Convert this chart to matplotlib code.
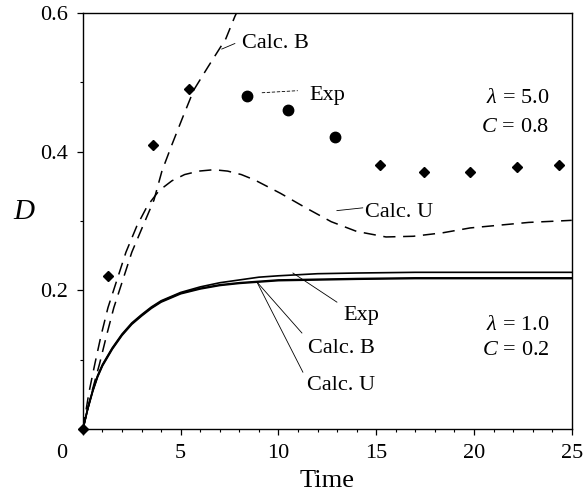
import numpy as np
import matplotlib
matplotlib.use("Agg")
import matplotlib.pyplot as plt
from matplotlib.ticker import MultipleLocator

plt.rcParams["font.family"] = ["Liberation Serif", "DejaVu Serif"]
plt.rcParams["mathtext.fontset"] = "custom"
plt.rcParams["mathtext.rm"] = "Liberation Serif"
plt.rcParams["mathtext.it"] = "Liberation Serif:italic"

# Measured points (lambda = 5.0, C = 0.8)
exp_diamond_t = [0, 1.26, 3.58, 5.42, 15.18, 17.43, 19.79, 22.19, 24.34]
exp_diamond_d = [0, 0.221, 0.41, 0.49, 0.381, 0.371, 0.371, 0.378, 0.381]
exp_circle_t = [8.38, 10.48, 12.88]
exp_circle_d = [0.48, 0.46, 0.421]

# Calculated curves (lambda = 5.0, C = 0.8)
calc_b_hi_t = [0, 0.45, 0.85, 1.2, 1.58, 2.04, 2.5, 3.07, 3.63, 4.04, 4.55,
               5.11, 5.67, 6.39, 7.31, 7.77, 8.2]
calc_b_hi_d = [0, 0.053, 0.094, 0.134, 0.175, 0.215, 0.255, 0.293, 0.33,
               0.372, 0.41, 0.45, 0.489, 0.522, 0.563, 0.595, 0.62]
calc_u_hi_t = [0, 0.31, 0.61, 0.92, 1.28, 1.74, 2.2, 2.76, 3.3, 3.9, 4.55,
               5.2, 5.93, 6.7, 7.4, 8.1, 8.8, 10.1, 11.4, 12.7, 14, 15.5,
               16.9, 18.4, 19.8, 21.3, 22.8, 24.3, 25]
calc_u_hi_d = [0, 0.053, 0.094, 0.134, 0.175, 0.215, 0.255, 0.293, 0.322,
               0.344, 0.358, 0.367, 0.372, 0.374, 0.372, 0.367, 0.359, 0.34,
               0.319, 0.299, 0.285, 0.277, 0.278, 0.283, 0.29, 0.294, 0.298,
               0.3, 0.301]

# Curves for lambda = 1.0, C = 0.2
low_t = [0, 0.25, 0.5, 0.75, 1, 1.5, 2, 2.5, 3, 3.5, 4, 5, 6, 7, 8, 9, 10,
         12, 14, 17, 20, 25]
exp_low_d = [0, 0.03, 0.056, 0.077, 0.093, 0.117, 0.137, 0.153, 0.165, 0.176,
             0.185, 0.197, 0.205, 0.211, 0.215, 0.219, 0.221, 0.224, 0.225,
             0.226, 0.226, 0.226]
calc_b_low_d = [0, 0.03, 0.055, 0.076, 0.092, 0.116, 0.136, 0.152, 0.164,
                0.175, 0.184, 0.196, 0.203, 0.208, 0.211, 0.213, 0.215, 0.216,
                0.217, 0.218, 0.218, 0.218]
calc_u_low_d = [0, 0.029, 0.054, 0.075, 0.091, 0.115, 0.135, 0.151, 0.163,
                0.174, 0.183, 0.195, 0.202, 0.207, 0.21, 0.212, 0.214, 0.215,
                0.216, 0.217, 0.217, 0.217]

x_ticks = [0, 5, 10, 15, 20, 25]
y_ticks = [0.2, 0.4, 0.6]

fig = plt.figure(figsize=(5.84, 4.95), dpi=100)
ax = fig.add_axes([0.142, 0.1333, 0.837, 0.8404])

dash = (0, (8, 5))
ax.plot(calc_b_hi_t, calc_b_hi_d, color="black", lw=1.1, linestyle=dash)
ax.plot(calc_u_hi_t, calc_u_hi_d, color="black", lw=1.1, linestyle=dash)

ax.plot(low_t, exp_low_d, color="black", lw=1.2)
ax.plot(low_t, calc_b_low_d, color="black", lw=1.2)
ax.plot(low_t, calc_u_low_d, color="black", lw=1.2)

ax.plot(exp_diamond_t, exp_diamond_d, "D", color="black", ms=5.5,
        clip_on=False, zorder=5)
ax.plot(exp_circle_t, exp_circle_d, "o", color="black", ms=7.5,
        clip_on=False, zorder=5)

ax.set_xlim(0, 25)
ax.set_ylim(0, 0.6)
ax.set_xticks(x_ticks)
ax.set_xticklabels([""] + [str(v) for v in x_ticks[1:]])
ax.set_yticks(y_ticks)
ax.set_yticklabels([f"{v:.1f}" for v in y_ticks])
ax.xaxis.set_minor_locator(MultipleLocator(1))
ax.yaxis.set_minor_locator(MultipleLocator(0.1))
ax.tick_params(which="major", direction="out", length=4, width=0.9,
               labelsize=16, pad=7)
ax.tick_params(which="minor", direction="out", length=2.5, width=0.8)
for s in ax.spines.values():
    s.set_linewidth(1.0)

# shared origin label
ax.annotate("0", xy=(0, 0), xytext=(-15, -11), textcoords="offset points",
            ha="center", va="top", fontsize=16)

ax.set_xlabel("Time", fontsize=19, labelpad=5)
ax.set_ylabel("$D$", fontsize=21, rotation=0, labelpad=18)
ax.yaxis.set_label_coords(-0.12, 0.49)

# curve labels, upper group
lead = dict(color="black", lw=0.6)
ax.plot([7.1, 7.77], [0.548, 0.556], **lead)
ax.text(8.13, 0.55, "Calc. B", fontsize=16, va="baseline")
ax.plot([9.15, 10.99], [0.485, 0.488], color="black", lw=0.6,
        linestyle=(0, (4, 2)))
ax.text(11.6, 0.475, "Exp", fontsize=16, va="baseline")
ax.plot([12.99, 14.31], [0.315, 0.319], **lead)
ax.text(14.42, 0.306, "Calc. U", fontsize=16, va="baseline")
ax.text(23.87, 0.47, r"$\lambda\,=\,5.0$", fontsize=16, ha="right",
        va="baseline")
ax.text(23.87, 0.4286, r"$C\,=\,0.8$", fontsize=16, ha="right",
        va="baseline")

# curve labels, lower group
ax.plot([10.74, 12.99], [0.225, 0.183], **lead)
ax.text(13.3, 0.157, "Exp", fontsize=16, va="baseline")
ax.plot([8.9, 11.2], [0.212, 0.1385], **lead)
ax.text(11.5, 0.1097, "Calc. B", fontsize=16, va="baseline")
ax.plot([8.9, 11.25], [0.212, 0.082], **lead)
ax.text(11.45, 0.056, "Calc. U", fontsize=16, va="baseline")
ax.text(23.87, 0.1429, r"$\lambda\,=\,1.0$", fontsize=16, ha="right",
        va="baseline")
ax.text(23.87, 0.1068, r"$C\,=\,0.2$", fontsize=16, ha="right",
        va="baseline")

fig.savefig("out.png", dpi=100)
